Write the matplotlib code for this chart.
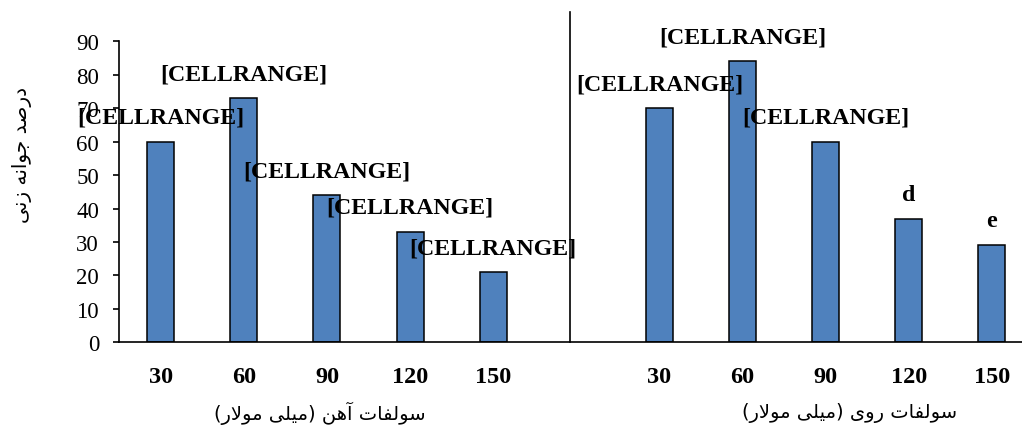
import matplotlib
matplotlib.use("Agg")
import matplotlib.pyplot as plt
import matplotlib.transforms as mtransforms
import numpy as np

# ---------------- data ----------------
concentrations = ["30", "60", "90", "120", "150"]
iron_values = [60, 73, 44, 33, 21]
zinc_values = [70, 84, 60, 37, 29]
iron_labels = ["[CELLRANGE]", "[CELLRANGE]", "[CELLRANGE]", "[CELLRANGE]", "[CELLRANGE]"]
zinc_labels = ["[CELLRANGE]", "[CELLRANGE]", "[CELLRANGE]", "d", "e"]
y_ticks = [0, 10, 20, 30, 40, 50, 60, 70, 80, 90]
iron_title = "سولفات آهن (میلی مولار)"
zinc_title = "سولفات روی (میلی مولار)"
y_title = "درصد جوانه زنی"

# ------------- minimal Persian shaping (presentation forms, visual order) -------------
FORMS = {
    'ا': (0xFE8D, 0xFE8E, None, None),
    'آ': (0xFE81, 0xFE82, None, None),
    'ت': (0xFE95, 0xFE96, 0xFE97, 0xFE98),
    'ج': (0xFE9D, 0xFE9E, 0xFE9F, 0xFEA0),
    'د': (0xFEA9, 0xFEAA, None, None),
    'ر': (0xFEAD, 0xFEAE, None, None),
    'ز': (0xFEAF, 0xFEB0, None, None),
    'س': (0xFEB1, 0xFEB2, 0xFEB3, 0xFEB4),
    'ص': (0xFEB9, 0xFEBA, 0xFEBB, 0xFEBC),
    'ف': (0xFED1, 0xFED2, 0xFED3, 0xFED4),
    'ل': (0xFEDD, 0xFEDE, 0xFEDF, 0xFEE0),
    'م': (0xFEE1, 0xFEE2, 0xFEE3, 0xFEE4),
    'ن': (0xFEE5, 0xFEE6, 0xFEE7, 0xFEE8),
    'ه': (0xFEE9, 0xFEEA, 0xFEEB, 0xFEEC),
    'و': (0xFEED, 0xFEEE, None, None),
    'ی': (0xFEEF, 0xFEF0, 0xFEF3, 0xFEF4),
    'لا': (0xFEFB, 0xFEFC, None, None),
    'لآ': (0xFEF5, 0xFEF6, None, None),
}


def shape(text):
    tokens = []
    i = 0
    while i < len(text):
        c = text[i]
        if c == 'ل' and i + 1 < len(text) and text[i + 1] in ('ا', 'آ'):
            tokens.append(c + text[i + 1])
            i += 2
        else:
            tokens.append(c)
            i += 1

    def joins_next(t):
        return t in FORMS and FORMS[t][2] is not None

    res = []
    for k, t in enumerate(tokens):
        if t not in FORMS:
            res.append(t)
            continue
        prev = tokens[k - 1] if k > 0 else None
        nxt = tokens[k + 1] if k + 1 < len(tokens) else None
        cp = prev is not None and joins_next(prev)
        cn = joins_next(t) and nxt is not None and nxt in FORMS
        iso, fin, ini, med = FORMS[t]
        if cp and cn:
            g = med
        elif cp:
            g = fin
        elif cn:
            g = ini
        else:
            g = iso
        res.append(chr(g))
    mirror = {'(': ')', ')': '('}
    return ''.join(mirror.get(c, c) for c in reversed(res))


# ---------------- figure ----------------
W, H = 1022, 427
fig = plt.figure(figsize=(W / 100, H / 100), dpi=100)
ax = fig.add_axes([119 / W, (H - 343.3) / H, (W - 119) / W, (343.3 - 42.3) / H])

serif = ['Liberation Serif', 'DejaVu Serif']
bar_color = '#4F81BD'

n = len(concentrations)
x_iron = np.arange(n)
x_zinc = np.arange(n) + n + 1

ax.bar(x_iron, iron_values, width=0.325, color=bar_color, edgecolor='black', linewidth=1.1, zorder=2)
ax.bar(x_zinc, zinc_values, width=0.325, color=bar_color, edgecolor='black', linewidth=1.1, zorder=2)

for xs, vals, labs in [(x_iron, iron_values, iron_labels), (x_zinc, zinc_values, zinc_labels)]:
    for x, v, lab in zip(xs, vals, labs):
        ax.annotate(lab, (x, v), xytext=(0, 17.6), textcoords='offset points',
                    ha='center', va='center', fontsize=17.2, fontweight='bold',
                    family=serif, zorder=5, annotation_clip=False)

# separator line between the two groups
sep_x = n - 0.075
ax.plot([sep_x, sep_x], [0, 1.097], color='black', linewidth=1.2,
        transform=mtransforms.blended_transform_factory(ax.transData, ax.transAxes),
        clip_on=False, zorder=3)

ax.set_xlim(-0.5017, 10.362)
ax.set_ylim(0, 90)
ax.set_yticks(y_ticks)
ax.set_yticklabels([str(t) for t in y_ticks], family=serif, fontsize=16.5)
ax.set_xticks(list(x_iron) + list(x_zinc))
ax.set_xticklabels(concentrations + concentrations, family=serif, fontsize=17.5, fontweight='bold')

ax.tick_params(axis='y', direction='out', length=6 * 0.72, width=1.2, pad=10)
ax.tick_params(axis='x', length=0, pad=17)

for s in ['top', 'right']:
    ax.spines[s].set_visible(False)
for s in ['left', 'bottom']:
    ax.spines[s].set_linewidth(1.2)

persian_font = ['DejaVu Sans']
fig.text(320 / W, (H - 413) / H, shape(iron_title), ha='center', va='center',
         fontsize=14, family=persian_font)
fig.text(850 / W, (H - 413) / H, shape(zinc_title), ha='center', va='center',
         fontsize=14, family=persian_font)
fig.text(22 / W, (H - 155) / H, shape(y_title), ha='center', va='center',
         rotation=90, fontsize=14.5, family=persian_font)

fig.savefig('out.png', dpi=100)
